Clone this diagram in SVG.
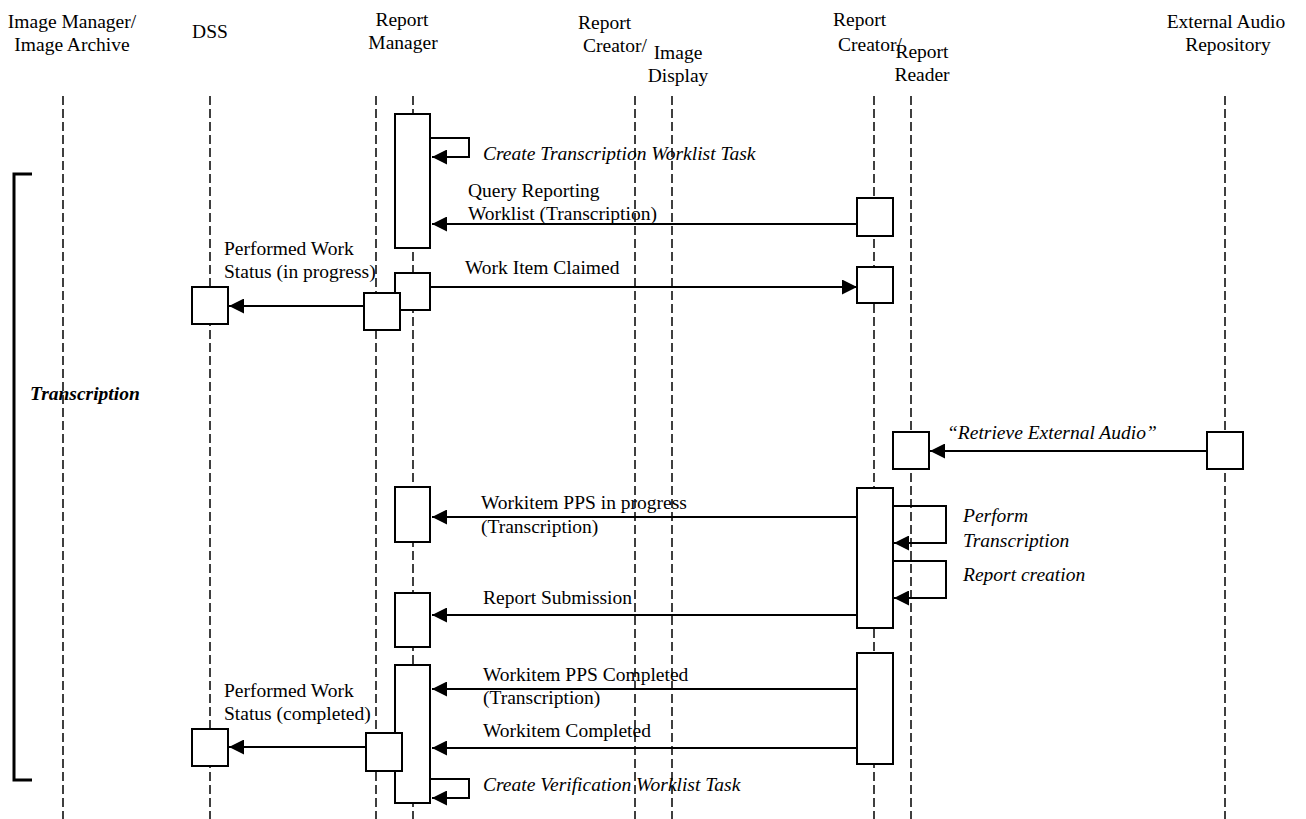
<svg xmlns="http://www.w3.org/2000/svg" width="1306" height="819" viewBox="0 0 1306 819">
<style>
text{font-size:19.5px;fill:#000}
.it{font-style:italic}
.bi{font-style:italic;font-weight:bold}
.mid{text-anchor:middle}
.life{stroke:#000;stroke-width:1.5;stroke-dasharray:9 4;fill:none}
.box{fill:#fff;stroke:#000;stroke-width:2}
.msg{stroke:#000;stroke-width:2;fill:none;marker-end:url(#ah)}
</style>
<defs>
<marker id="ah" markerUnits="userSpaceOnUse" markerWidth="15" markerHeight="15" refX="14" refY="7" orient="auto" viewBox="0 0 14 14">
<path d="M0,0 L14,7 L0,14 Z" fill="#000"/>
</marker>
</defs>
<rect width="1306" height="819" fill="#fff"/>

<g id="lifelines">
<line class="life" x1="63" y1="96" x2="63" y2="819"/>
<line class="life" x1="210" y1="96" x2="210" y2="819"/>
<line class="life" x1="376" y1="96" x2="376" y2="819"/>
<line class="life" x1="413" y1="96" x2="413" y2="819"/>
<line class="life" x1="635" y1="96" x2="635" y2="819"/>
<line class="life" x1="672" y1="96" x2="672" y2="819"/>
<line class="life" x1="874" y1="96" x2="874" y2="819"/>
<line class="life" x1="911" y1="96" x2="911" y2="819"/>
<line class="life" x1="1225" y1="96" x2="1225" y2="819"/>
</g>

<g font-family="'Liberation Serif', Tinos, 'Times New Roman', 'Nimbus Roman', 'DejaVu Serif', serif">
<g id="headers">
<text class="mid" x="72" y="28">Image Manager/</text>
<text class="mid" x="72" y="51">Image Archive</text>
<text class="mid" x="210" y="38">DSS</text>
<text class="mid" x="402" y="26">Report</text>
<text class="mid" x="403" y="49">Manager</text>
<text x="578" y="29">Report</text>
<text x="583" y="52">Creator/</text>
<text class="mid" x="678" y="59">Image</text>
<text class="mid" x="678" y="82">Display</text>
<text x="833" y="26">Report</text>
<text x="838" y="51">Creator/</text>
<text class="mid" x="922" y="58">Report</text>
<text class="mid" x="922" y="81">Reader</text>
<text class="mid" x="1226" y="28">External Audio</text>
<text class="mid" x="1228" y="51">Repository</text>
</g>

<g id="group-transcription">
<path d="M32,174 H14 V780 H32" fill="none" stroke="#000" stroke-width="3"/>
<text class="bi" x="30" y="400">Transcription</text>
</g>

<g id="node-dss">
<rect class="box" x="192" y="287" width="36" height="37"/>
<rect class="box" x="192" y="729" width="36" height="37"/>
</g>

<g id="node-report-manager">
<rect class="box" x="395" y="114" width="35" height="134"/>
<rect class="box" x="395" y="273" width="35" height="37"/>
<rect class="box" x="364" y="293" width="36" height="37"/>
<rect class="box" x="395" y="487" width="35" height="55"/>
<rect class="box" x="395" y="593" width="35" height="54"/>
<rect class="box" x="395" y="665" width="35" height="138"/>
<rect class="box" x="366" y="733" width="36" height="38"/>
</g>

<g id="node-report-creator">
<rect class="box" x="857" y="198" width="36" height="38"/>
<rect class="box" x="857" y="267" width="36" height="36"/>
<rect class="box" x="857" y="488" width="36" height="140"/>
<rect class="box" x="857" y="653" width="36" height="111"/>
</g>

<g id="node-report-reader">
<rect class="box" x="893" y="432" width="36" height="37"/>
</g>

<g id="node-external-audio">
<rect class="box" x="1207" y="432" width="36" height="37"/>
</g>

<g id="connectors">
<path class="msg" d="M431,138 H469 V157 H432"/>
<line class="msg" x1="857" y1="224" x2="432" y2="224"/>
<line class="msg" x1="430" y1="287" x2="857" y2="287"/>
<line class="msg" x1="364" y1="306" x2="229" y2="306"/>
<line class="msg" x1="1207" y1="451" x2="930" y2="451"/>
<line class="msg" x1="857" y1="517" x2="432" y2="517"/>
<path class="msg" d="M893,506 H946 V543 H894"/>
<path class="msg" d="M893,561 H946 V598 H894"/>
<line class="msg" x1="857" y1="615" x2="432" y2="615"/>
<line class="msg" x1="857" y1="689" x2="432" y2="689"/>
<line class="msg" x1="857" y1="748" x2="432" y2="748"/>
<line class="msg" x1="366" y1="747" x2="229" y2="747"/>
<path class="msg" d="M431,779 H469 V798 H432"/>
</g>

<g id="labels">
<text class="it" x="483" y="160">Create Transcription Worklist Task</text>
<text x="468" y="197">Query Reporting</text>
<text x="468" y="220">Worklist (Transcription)</text>
<text x="224" y="255">Performed Work</text>
<text x="224" y="278">Status (in progress)</text>
<text x="465" y="274">Work Item Claimed</text>
<text class="it" x="947" y="439">“Retrieve External Audio”</text>
<text x="481" y="509">Workitem PPS in progress</text>
<text x="481" y="533">(Transcription)</text>
<text class="it" x="963" y="522">Perform</text>
<text class="it" x="963" y="547">Transcription</text>
<text class="it" x="963" y="581">Report creation</text>
<text x="483" y="604">Report Submission</text>
<text x="483" y="681">Workitem PPS Completed</text>
<text x="483" y="704">(Transcription)</text>
<text x="224" y="697">Performed Work</text>
<text x="224" y="720">Status (completed)</text>
<text x="483" y="737">Workitem Completed</text>
<text class="it" x="483" y="791">Create Verification Worklist Task</text>
</g>
</g>
</svg>
